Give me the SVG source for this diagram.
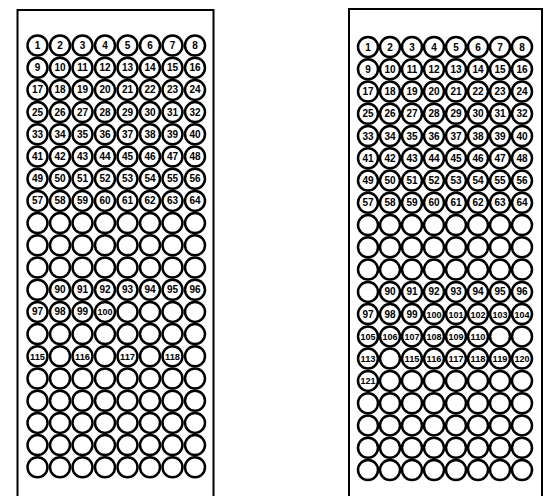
<svg xmlns="http://www.w3.org/2000/svg" width="550" height="496" viewBox="0 0 550 496">
<style>
.panel{fill:#fff;stroke:#000;stroke-width:2}
circle{fill:#fff;stroke:#000;stroke-width:2.5}
text{font-family:"Liberation Sans",Arial,sans-serif;font-weight:bold;font-size:10px;fill:#000;text-anchor:middle;dominant-baseline:central}
text.s{font-size:9.5px}
</style>
<rect width="550" height="496" fill="#fff"/>
<g id="left-panel">
<rect class="panel" x="17.5" y="10" width="196" height="500"/>
<g id="L-row1" transform="translate(0,45.5)">
<g id="L1-1" transform="translate(37.5,0)"><circle r="10"/><text>1</text></g>
<g id="L1-2" transform="translate(60,0)"><circle r="10"/><text>2</text></g>
<g id="L1-3" transform="translate(82.5,0)"><circle r="10"/><text>3</text></g>
<g id="L1-4" transform="translate(105,0)"><circle r="10"/><text>4</text></g>
<g id="L1-5" transform="translate(127.5,0)"><circle r="10"/><text>5</text></g>
<g id="L1-6" transform="translate(150,0)"><circle r="10"/><text>6</text></g>
<g id="L1-7" transform="translate(172.5,0)"><circle r="10"/><text>7</text></g>
<g id="L1-8" transform="translate(195,0)"><circle r="10"/><text>8</text></g>
</g>
<g id="L-row2" transform="translate(0,67.7)">
<g id="L2-1" transform="translate(37.5,0)"><circle r="10"/><text>9</text></g>
<g id="L2-2" transform="translate(60,0)"><circle r="10"/><text>10</text></g>
<g id="L2-3" transform="translate(82.5,0)"><circle r="10"/><text>11</text></g>
<g id="L2-4" transform="translate(105,0)"><circle r="10"/><text>12</text></g>
<g id="L2-5" transform="translate(127.5,0)"><circle r="10"/><text>13</text></g>
<g id="L2-6" transform="translate(150,0)"><circle r="10"/><text>14</text></g>
<g id="L2-7" transform="translate(172.5,0)"><circle r="10"/><text>15</text></g>
<g id="L2-8" transform="translate(195,0)"><circle r="10"/><text>16</text></g>
</g>
<g id="L-row3" transform="translate(0,89.9)">
<g id="L3-1" transform="translate(37.5,0)"><circle r="10"/><text>17</text></g>
<g id="L3-2" transform="translate(60,0)"><circle r="10"/><text>18</text></g>
<g id="L3-3" transform="translate(82.5,0)"><circle r="10"/><text>19</text></g>
<g id="L3-4" transform="translate(105,0)"><circle r="10"/><text>20</text></g>
<g id="L3-5" transform="translate(127.5,0)"><circle r="10"/><text>21</text></g>
<g id="L3-6" transform="translate(150,0)"><circle r="10"/><text>22</text></g>
<g id="L3-7" transform="translate(172.5,0)"><circle r="10"/><text>23</text></g>
<g id="L3-8" transform="translate(195,0)"><circle r="10"/><text>24</text></g>
</g>
<g id="L-row4" transform="translate(0,112.1)">
<g id="L4-1" transform="translate(37.5,0)"><circle r="10"/><text>25</text></g>
<g id="L4-2" transform="translate(60,0)"><circle r="10"/><text>26</text></g>
<g id="L4-3" transform="translate(82.5,0)"><circle r="10"/><text>27</text></g>
<g id="L4-4" transform="translate(105,0)"><circle r="10"/><text>28</text></g>
<g id="L4-5" transform="translate(127.5,0)"><circle r="10"/><text>29</text></g>
<g id="L4-6" transform="translate(150,0)"><circle r="10"/><text>30</text></g>
<g id="L4-7" transform="translate(172.5,0)"><circle r="10"/><text>31</text></g>
<g id="L4-8" transform="translate(195,0)"><circle r="10"/><text>32</text></g>
</g>
<g id="L-row5" transform="translate(0,134.3)">
<g id="L5-1" transform="translate(37.5,0)"><circle r="10"/><text>33</text></g>
<g id="L5-2" transform="translate(60,0)"><circle r="10"/><text>34</text></g>
<g id="L5-3" transform="translate(82.5,0)"><circle r="10"/><text>35</text></g>
<g id="L5-4" transform="translate(105,0)"><circle r="10"/><text>36</text></g>
<g id="L5-5" transform="translate(127.5,0)"><circle r="10"/><text>37</text></g>
<g id="L5-6" transform="translate(150,0)"><circle r="10"/><text>38</text></g>
<g id="L5-7" transform="translate(172.5,0)"><circle r="10"/><text>39</text></g>
<g id="L5-8" transform="translate(195,0)"><circle r="10"/><text>40</text></g>
</g>
<g id="L-row6" transform="translate(0,156.5)">
<g id="L6-1" transform="translate(37.5,0)"><circle r="10"/><text>41</text></g>
<g id="L6-2" transform="translate(60,0)"><circle r="10"/><text>42</text></g>
<g id="L6-3" transform="translate(82.5,0)"><circle r="10"/><text>43</text></g>
<g id="L6-4" transform="translate(105,0)"><circle r="10"/><text>44</text></g>
<g id="L6-5" transform="translate(127.5,0)"><circle r="10"/><text>45</text></g>
<g id="L6-6" transform="translate(150,0)"><circle r="10"/><text>46</text></g>
<g id="L6-7" transform="translate(172.5,0)"><circle r="10"/><text>47</text></g>
<g id="L6-8" transform="translate(195,0)"><circle r="10"/><text>48</text></g>
</g>
<g id="L-row7" transform="translate(0,178.7)">
<g id="L7-1" transform="translate(37.5,0)"><circle r="10"/><text>49</text></g>
<g id="L7-2" transform="translate(60,0)"><circle r="10"/><text>50</text></g>
<g id="L7-3" transform="translate(82.5,0)"><circle r="10"/><text>51</text></g>
<g id="L7-4" transform="translate(105,0)"><circle r="10"/><text>52</text></g>
<g id="L7-5" transform="translate(127.5,0)"><circle r="10"/><text>53</text></g>
<g id="L7-6" transform="translate(150,0)"><circle r="10"/><text>54</text></g>
<g id="L7-7" transform="translate(172.5,0)"><circle r="10"/><text>55</text></g>
<g id="L7-8" transform="translate(195,0)"><circle r="10"/><text>56</text></g>
</g>
<g id="L-row8" transform="translate(0,200.9)">
<g id="L8-1" transform="translate(37.5,0)"><circle r="10"/><text>57</text></g>
<g id="L8-2" transform="translate(60,0)"><circle r="10"/><text>58</text></g>
<g id="L8-3" transform="translate(82.5,0)"><circle r="10"/><text>59</text></g>
<g id="L8-4" transform="translate(105,0)"><circle r="10"/><text>60</text></g>
<g id="L8-5" transform="translate(127.5,0)"><circle r="10"/><text>61</text></g>
<g id="L8-6" transform="translate(150,0)"><circle r="10"/><text>62</text></g>
<g id="L8-7" transform="translate(172.5,0)"><circle r="10"/><text>63</text></g>
<g id="L8-8" transform="translate(195,0)"><circle r="10"/><text>64</text></g>
</g>
<g id="L-row9" transform="translate(0,223.1)">
<g id="L9-1" transform="translate(37.5,0)"><circle r="10"/></g>
<g id="L9-2" transform="translate(60,0)"><circle r="10"/></g>
<g id="L9-3" transform="translate(82.5,0)"><circle r="10"/></g>
<g id="L9-4" transform="translate(105,0)"><circle r="10"/></g>
<g id="L9-5" transform="translate(127.5,0)"><circle r="10"/></g>
<g id="L9-6" transform="translate(150,0)"><circle r="10"/></g>
<g id="L9-7" transform="translate(172.5,0)"><circle r="10"/></g>
<g id="L9-8" transform="translate(195,0)"><circle r="10"/></g>
</g>
<g id="L-row10" transform="translate(0,245.3)">
<g id="L10-1" transform="translate(37.5,0)"><circle r="10"/></g>
<g id="L10-2" transform="translate(60,0)"><circle r="10"/></g>
<g id="L10-3" transform="translate(82.5,0)"><circle r="10"/></g>
<g id="L10-4" transform="translate(105,0)"><circle r="10"/></g>
<g id="L10-5" transform="translate(127.5,0)"><circle r="10"/></g>
<g id="L10-6" transform="translate(150,0)"><circle r="10"/></g>
<g id="L10-7" transform="translate(172.5,0)"><circle r="10"/></g>
<g id="L10-8" transform="translate(195,0)"><circle r="10"/></g>
</g>
<g id="L-row11" transform="translate(0,267.5)">
<g id="L11-1" transform="translate(37.5,0)"><circle r="10"/></g>
<g id="L11-2" transform="translate(60,0)"><circle r="10"/></g>
<g id="L11-3" transform="translate(82.5,0)"><circle r="10"/></g>
<g id="L11-4" transform="translate(105,0)"><circle r="10"/></g>
<g id="L11-5" transform="translate(127.5,0)"><circle r="10"/></g>
<g id="L11-6" transform="translate(150,0)"><circle r="10"/></g>
<g id="L11-7" transform="translate(172.5,0)"><circle r="10"/></g>
<g id="L11-8" transform="translate(195,0)"><circle r="10"/></g>
</g>
<g id="L-row12" transform="translate(0,289.7)">
<g id="L12-1" transform="translate(37.5,0)"><circle r="10"/></g>
<g id="L12-2" transform="translate(60,0)"><circle r="10"/><text>90</text></g>
<g id="L12-3" transform="translate(82.5,0)"><circle r="10"/><text>91</text></g>
<g id="L12-4" transform="translate(105,0)"><circle r="10"/><text>92</text></g>
<g id="L12-5" transform="translate(127.5,0)"><circle r="10"/><text>93</text></g>
<g id="L12-6" transform="translate(150,0)"><circle r="10"/><text>94</text></g>
<g id="L12-7" transform="translate(172.5,0)"><circle r="10"/><text>95</text></g>
<g id="L12-8" transform="translate(195,0)"><circle r="10"/><text>96</text></g>
</g>
<g id="L-row13" transform="translate(0,311.9)">
<g id="L13-1" transform="translate(37.5,0)"><circle r="10"/><text>97</text></g>
<g id="L13-2" transform="translate(60,0)"><circle r="10"/><text>98</text></g>
<g id="L13-3" transform="translate(82.5,0)"><circle r="10"/><text>99</text></g>
<g id="L13-4" transform="translate(105,0)"><circle r="10"/><text class="s" textLength="15" lengthAdjust="spacingAndGlyphs">100</text></g>
<g id="L13-5" transform="translate(127.5,0)"><circle r="10"/></g>
<g id="L13-6" transform="translate(150,0)"><circle r="10"/></g>
<g id="L13-7" transform="translate(172.5,0)"><circle r="10"/></g>
<g id="L13-8" transform="translate(195,0)"><circle r="10"/></g>
</g>
<g id="L-row14" transform="translate(0,334.1)">
<g id="L14-1" transform="translate(37.5,0)"><circle r="10"/></g>
<g id="L14-2" transform="translate(60,0)"><circle r="10"/></g>
<g id="L14-3" transform="translate(82.5,0)"><circle r="10"/></g>
<g id="L14-4" transform="translate(105,0)"><circle r="10"/></g>
<g id="L14-5" transform="translate(127.5,0)"><circle r="10"/></g>
<g id="L14-6" transform="translate(150,0)"><circle r="10"/></g>
<g id="L14-7" transform="translate(172.5,0)"><circle r="10"/></g>
<g id="L14-8" transform="translate(195,0)"><circle r="10"/></g>
</g>
<g id="L-row15" transform="translate(0,356.3)">
<g id="L15-1" transform="translate(37.5,0)"><circle r="10"/><text class="s" textLength="15" lengthAdjust="spacingAndGlyphs">115</text></g>
<g id="L15-2" transform="translate(60,0)"><circle r="10"/></g>
<g id="L15-3" transform="translate(82.5,0)"><circle r="10"/><text class="s" textLength="15" lengthAdjust="spacingAndGlyphs">116</text></g>
<g id="L15-4" transform="translate(105,0)"><circle r="10"/></g>
<g id="L15-5" transform="translate(127.5,0)"><circle r="10"/><text class="s" textLength="15" lengthAdjust="spacingAndGlyphs">117</text></g>
<g id="L15-6" transform="translate(150,0)"><circle r="10"/></g>
<g id="L15-7" transform="translate(172.5,0)"><circle r="10"/><text class="s" textLength="15" lengthAdjust="spacingAndGlyphs">118</text></g>
<g id="L15-8" transform="translate(195,0)"><circle r="10"/></g>
</g>
<g id="L-row16" transform="translate(0,378.5)">
<g id="L16-1" transform="translate(37.5,0)"><circle r="10"/></g>
<g id="L16-2" transform="translate(60,0)"><circle r="10"/></g>
<g id="L16-3" transform="translate(82.5,0)"><circle r="10"/></g>
<g id="L16-4" transform="translate(105,0)"><circle r="10"/></g>
<g id="L16-5" transform="translate(127.5,0)"><circle r="10"/></g>
<g id="L16-6" transform="translate(150,0)"><circle r="10"/></g>
<g id="L16-7" transform="translate(172.5,0)"><circle r="10"/></g>
<g id="L16-8" transform="translate(195,0)"><circle r="10"/></g>
</g>
<g id="L-row17" transform="translate(0,400.7)">
<g id="L17-1" transform="translate(37.5,0)"><circle r="10"/></g>
<g id="L17-2" transform="translate(60,0)"><circle r="10"/></g>
<g id="L17-3" transform="translate(82.5,0)"><circle r="10"/></g>
<g id="L17-4" transform="translate(105,0)"><circle r="10"/></g>
<g id="L17-5" transform="translate(127.5,0)"><circle r="10"/></g>
<g id="L17-6" transform="translate(150,0)"><circle r="10"/></g>
<g id="L17-7" transform="translate(172.5,0)"><circle r="10"/></g>
<g id="L17-8" transform="translate(195,0)"><circle r="10"/></g>
</g>
<g id="L-row18" transform="translate(0,422.9)">
<g id="L18-1" transform="translate(37.5,0)"><circle r="10"/></g>
<g id="L18-2" transform="translate(60,0)"><circle r="10"/></g>
<g id="L18-3" transform="translate(82.5,0)"><circle r="10"/></g>
<g id="L18-4" transform="translate(105,0)"><circle r="10"/></g>
<g id="L18-5" transform="translate(127.5,0)"><circle r="10"/></g>
<g id="L18-6" transform="translate(150,0)"><circle r="10"/></g>
<g id="L18-7" transform="translate(172.5,0)"><circle r="10"/></g>
<g id="L18-8" transform="translate(195,0)"><circle r="10"/></g>
</g>
<g id="L-row19" transform="translate(0,445.1)">
<g id="L19-1" transform="translate(37.5,0)"><circle r="10"/></g>
<g id="L19-2" transform="translate(60,0)"><circle r="10"/></g>
<g id="L19-3" transform="translate(82.5,0)"><circle r="10"/></g>
<g id="L19-4" transform="translate(105,0)"><circle r="10"/></g>
<g id="L19-5" transform="translate(127.5,0)"><circle r="10"/></g>
<g id="L19-6" transform="translate(150,0)"><circle r="10"/></g>
<g id="L19-7" transform="translate(172.5,0)"><circle r="10"/></g>
<g id="L19-8" transform="translate(195,0)"><circle r="10"/></g>
</g>
<g id="L-row20" transform="translate(0,467.3)">
<g id="L20-1" transform="translate(37.5,0)"><circle r="10"/></g>
<g id="L20-2" transform="translate(60,0)"><circle r="10"/></g>
<g id="L20-3" transform="translate(82.5,0)"><circle r="10"/></g>
<g id="L20-4" transform="translate(105,0)"><circle r="10"/></g>
<g id="L20-5" transform="translate(127.5,0)"><circle r="10"/></g>
<g id="L20-6" transform="translate(150,0)"><circle r="10"/></g>
<g id="L20-7" transform="translate(172.5,0)"><circle r="10"/></g>
<g id="L20-8" transform="translate(195,0)"><circle r="10"/></g>
</g>
</g>
<g id="right-panel">
<rect class="panel" x="349" y="9" width="193" height="500"/>
<g id="R-row1" transform="translate(0,47)">
<g id="R1-1" transform="translate(368,0)"><circle r="10"/><text>1</text></g>
<g id="R1-2" transform="translate(390,0)"><circle r="10"/><text>2</text></g>
<g id="R1-3" transform="translate(412,0)"><circle r="10"/><text>3</text></g>
<g id="R1-4" transform="translate(434,0)"><circle r="10"/><text>4</text></g>
<g id="R1-5" transform="translate(456,0)"><circle r="10"/><text>5</text></g>
<g id="R1-6" transform="translate(478,0)"><circle r="10"/><text>6</text></g>
<g id="R1-7" transform="translate(500,0)"><circle r="10"/><text>7</text></g>
<g id="R1-8" transform="translate(522,0)"><circle r="10"/><text>8</text></g>
</g>
<g id="R-row2" transform="translate(0,69.3)">
<g id="R2-1" transform="translate(368,0)"><circle r="10"/><text>9</text></g>
<g id="R2-2" transform="translate(390,0)"><circle r="10"/><text>10</text></g>
<g id="R2-3" transform="translate(412,0)"><circle r="10"/><text>11</text></g>
<g id="R2-4" transform="translate(434,0)"><circle r="10"/><text>12</text></g>
<g id="R2-5" transform="translate(456,0)"><circle r="10"/><text>13</text></g>
<g id="R2-6" transform="translate(478,0)"><circle r="10"/><text>14</text></g>
<g id="R2-7" transform="translate(500,0)"><circle r="10"/><text>15</text></g>
<g id="R2-8" transform="translate(522,0)"><circle r="10"/><text>16</text></g>
</g>
<g id="R-row3" transform="translate(0,91.5)">
<g id="R3-1" transform="translate(368,0)"><circle r="10"/><text>17</text></g>
<g id="R3-2" transform="translate(390,0)"><circle r="10"/><text>18</text></g>
<g id="R3-3" transform="translate(412,0)"><circle r="10"/><text>19</text></g>
<g id="R3-4" transform="translate(434,0)"><circle r="10"/><text>20</text></g>
<g id="R3-5" transform="translate(456,0)"><circle r="10"/><text>21</text></g>
<g id="R3-6" transform="translate(478,0)"><circle r="10"/><text>22</text></g>
<g id="R3-7" transform="translate(500,0)"><circle r="10"/><text>23</text></g>
<g id="R3-8" transform="translate(522,0)"><circle r="10"/><text>24</text></g>
</g>
<g id="R-row4" transform="translate(0,113.8)">
<g id="R4-1" transform="translate(368,0)"><circle r="10"/><text>25</text></g>
<g id="R4-2" transform="translate(390,0)"><circle r="10"/><text>26</text></g>
<g id="R4-3" transform="translate(412,0)"><circle r="10"/><text>27</text></g>
<g id="R4-4" transform="translate(434,0)"><circle r="10"/><text>28</text></g>
<g id="R4-5" transform="translate(456,0)"><circle r="10"/><text>29</text></g>
<g id="R4-6" transform="translate(478,0)"><circle r="10"/><text>30</text></g>
<g id="R4-7" transform="translate(500,0)"><circle r="10"/><text>31</text></g>
<g id="R4-8" transform="translate(522,0)"><circle r="10"/><text>32</text></g>
</g>
<g id="R-row5" transform="translate(0,136)">
<g id="R5-1" transform="translate(368,0)"><circle r="10"/><text>33</text></g>
<g id="R5-2" transform="translate(390,0)"><circle r="10"/><text>34</text></g>
<g id="R5-3" transform="translate(412,0)"><circle r="10"/><text>35</text></g>
<g id="R5-4" transform="translate(434,0)"><circle r="10"/><text>36</text></g>
<g id="R5-5" transform="translate(456,0)"><circle r="10"/><text>37</text></g>
<g id="R5-6" transform="translate(478,0)"><circle r="10"/><text>38</text></g>
<g id="R5-7" transform="translate(500,0)"><circle r="10"/><text>39</text></g>
<g id="R5-8" transform="translate(522,0)"><circle r="10"/><text>40</text></g>
</g>
<g id="R-row6" transform="translate(0,158.3)">
<g id="R6-1" transform="translate(368,0)"><circle r="10"/><text>41</text></g>
<g id="R6-2" transform="translate(390,0)"><circle r="10"/><text>42</text></g>
<g id="R6-3" transform="translate(412,0)"><circle r="10"/><text>43</text></g>
<g id="R6-4" transform="translate(434,0)"><circle r="10"/><text>44</text></g>
<g id="R6-5" transform="translate(456,0)"><circle r="10"/><text>45</text></g>
<g id="R6-6" transform="translate(478,0)"><circle r="10"/><text>46</text></g>
<g id="R6-7" transform="translate(500,0)"><circle r="10"/><text>47</text></g>
<g id="R6-8" transform="translate(522,0)"><circle r="10"/><text>48</text></g>
</g>
<g id="R-row7" transform="translate(0,180.6)">
<g id="R7-1" transform="translate(368,0)"><circle r="10"/><text>49</text></g>
<g id="R7-2" transform="translate(390,0)"><circle r="10"/><text>50</text></g>
<g id="R7-3" transform="translate(412,0)"><circle r="10"/><text>51</text></g>
<g id="R7-4" transform="translate(434,0)"><circle r="10"/><text>52</text></g>
<g id="R7-5" transform="translate(456,0)"><circle r="10"/><text>53</text></g>
<g id="R7-6" transform="translate(478,0)"><circle r="10"/><text>54</text></g>
<g id="R7-7" transform="translate(500,0)"><circle r="10"/><text>55</text></g>
<g id="R7-8" transform="translate(522,0)"><circle r="10"/><text>56</text></g>
</g>
<g id="R-row8" transform="translate(0,202.8)">
<g id="R8-1" transform="translate(368,0)"><circle r="10"/><text>57</text></g>
<g id="R8-2" transform="translate(390,0)"><circle r="10"/><text>58</text></g>
<g id="R8-3" transform="translate(412,0)"><circle r="10"/><text>59</text></g>
<g id="R8-4" transform="translate(434,0)"><circle r="10"/><text>60</text></g>
<g id="R8-5" transform="translate(456,0)"><circle r="10"/><text>61</text></g>
<g id="R8-6" transform="translate(478,0)"><circle r="10"/><text>62</text></g>
<g id="R8-7" transform="translate(500,0)"><circle r="10"/><text>63</text></g>
<g id="R8-8" transform="translate(522,0)"><circle r="10"/><text>64</text></g>
</g>
<g id="R-row9" transform="translate(0,225.1)">
<g id="R9-1" transform="translate(368,0)"><circle r="10"/></g>
<g id="R9-2" transform="translate(390,0)"><circle r="10"/></g>
<g id="R9-3" transform="translate(412,0)"><circle r="10"/></g>
<g id="R9-4" transform="translate(434,0)"><circle r="10"/></g>
<g id="R9-5" transform="translate(456,0)"><circle r="10"/></g>
<g id="R9-6" transform="translate(478,0)"><circle r="10"/></g>
<g id="R9-7" transform="translate(500,0)"><circle r="10"/></g>
<g id="R9-8" transform="translate(522,0)"><circle r="10"/></g>
</g>
<g id="R-row10" transform="translate(0,247.3)">
<g id="R10-1" transform="translate(368,0)"><circle r="10"/></g>
<g id="R10-2" transform="translate(390,0)"><circle r="10"/></g>
<g id="R10-3" transform="translate(412,0)"><circle r="10"/></g>
<g id="R10-4" transform="translate(434,0)"><circle r="10"/></g>
<g id="R10-5" transform="translate(456,0)"><circle r="10"/></g>
<g id="R10-6" transform="translate(478,0)"><circle r="10"/></g>
<g id="R10-7" transform="translate(500,0)"><circle r="10"/></g>
<g id="R10-8" transform="translate(522,0)"><circle r="10"/></g>
</g>
<g id="R-row11" transform="translate(0,269.6)">
<g id="R11-1" transform="translate(368,0)"><circle r="10"/></g>
<g id="R11-2" transform="translate(390,0)"><circle r="10"/></g>
<g id="R11-3" transform="translate(412,0)"><circle r="10"/></g>
<g id="R11-4" transform="translate(434,0)"><circle r="10"/></g>
<g id="R11-5" transform="translate(456,0)"><circle r="10"/></g>
<g id="R11-6" transform="translate(478,0)"><circle r="10"/></g>
<g id="R11-7" transform="translate(500,0)"><circle r="10"/></g>
<g id="R11-8" transform="translate(522,0)"><circle r="10"/></g>
</g>
<g id="R-row12" transform="translate(0,291.9)">
<g id="R12-1" transform="translate(368,0)"><circle r="10"/></g>
<g id="R12-2" transform="translate(390,0)"><circle r="10"/><text>90</text></g>
<g id="R12-3" transform="translate(412,0)"><circle r="10"/><text>91</text></g>
<g id="R12-4" transform="translate(434,0)"><circle r="10"/><text>92</text></g>
<g id="R12-5" transform="translate(456,0)"><circle r="10"/><text>93</text></g>
<g id="R12-6" transform="translate(478,0)"><circle r="10"/><text>94</text></g>
<g id="R12-7" transform="translate(500,0)"><circle r="10"/><text>95</text></g>
<g id="R12-8" transform="translate(522,0)"><circle r="10"/><text>96</text></g>
</g>
<g id="R-row13" transform="translate(0,314.1)">
<g id="R13-1" transform="translate(368,0)"><circle r="10"/><text>97</text></g>
<g id="R13-2" transform="translate(390,0)"><circle r="10"/><text>98</text></g>
<g id="R13-3" transform="translate(412,0)"><circle r="10"/><text>99</text></g>
<g id="R13-4" transform="translate(434,0)"><circle r="10"/><text class="s" textLength="15" lengthAdjust="spacingAndGlyphs">100</text></g>
<g id="R13-5" transform="translate(456,0)"><circle r="10"/><text class="s" textLength="15" lengthAdjust="spacingAndGlyphs">101</text></g>
<g id="R13-6" transform="translate(478,0)"><circle r="10"/><text class="s" textLength="15" lengthAdjust="spacingAndGlyphs">102</text></g>
<g id="R13-7" transform="translate(500,0)"><circle r="10"/><text class="s" textLength="15" lengthAdjust="spacingAndGlyphs">103</text></g>
<g id="R13-8" transform="translate(522,0)"><circle r="10"/><text class="s" textLength="15" lengthAdjust="spacingAndGlyphs">104</text></g>
</g>
<g id="R-row14" transform="translate(0,336.4)">
<g id="R14-1" transform="translate(368,0)"><circle r="10"/><text class="s" textLength="15" lengthAdjust="spacingAndGlyphs">105</text></g>
<g id="R14-2" transform="translate(390,0)"><circle r="10"/><text class="s" textLength="15" lengthAdjust="spacingAndGlyphs">106</text></g>
<g id="R14-3" transform="translate(412,0)"><circle r="10"/><text class="s" textLength="15" lengthAdjust="spacingAndGlyphs">107</text></g>
<g id="R14-4" transform="translate(434,0)"><circle r="10"/><text class="s" textLength="15" lengthAdjust="spacingAndGlyphs">108</text></g>
<g id="R14-5" transform="translate(456,0)"><circle r="10"/><text class="s" textLength="15" lengthAdjust="spacingAndGlyphs">109</text></g>
<g id="R14-6" transform="translate(478,0)"><circle r="10"/><text class="s" textLength="15" lengthAdjust="spacingAndGlyphs">110</text></g>
<g id="R14-7" transform="translate(500,0)"><circle r="10"/></g>
<g id="R14-8" transform="translate(522,0)"><circle r="10"/></g>
</g>
<g id="R-row15" transform="translate(0,358.6)">
<g id="R15-1" transform="translate(368,0)"><circle r="10"/><text class="s" textLength="15" lengthAdjust="spacingAndGlyphs">113</text></g>
<g id="R15-2" transform="translate(390,0)"><circle r="10"/></g>
<g id="R15-3" transform="translate(412,0)"><circle r="10"/><text class="s" textLength="15" lengthAdjust="spacingAndGlyphs">115</text></g>
<g id="R15-4" transform="translate(434,0)"><circle r="10"/><text class="s" textLength="15" lengthAdjust="spacingAndGlyphs">116</text></g>
<g id="R15-5" transform="translate(456,0)"><circle r="10"/><text class="s" textLength="15" lengthAdjust="spacingAndGlyphs">117</text></g>
<g id="R15-6" transform="translate(478,0)"><circle r="10"/><text class="s" textLength="15" lengthAdjust="spacingAndGlyphs">118</text></g>
<g id="R15-7" transform="translate(500,0)"><circle r="10"/><text class="s" textLength="15" lengthAdjust="spacingAndGlyphs">119</text></g>
<g id="R15-8" transform="translate(522,0)"><circle r="10"/><text class="s" textLength="15" lengthAdjust="spacingAndGlyphs">120</text></g>
</g>
<g id="R-row16" transform="translate(0,380.9)">
<g id="R16-1" transform="translate(368,0)"><circle r="10"/><text class="s" textLength="15" lengthAdjust="spacingAndGlyphs">121</text></g>
<g id="R16-2" transform="translate(390,0)"><circle r="10"/></g>
<g id="R16-3" transform="translate(412,0)"><circle r="10"/></g>
<g id="R16-4" transform="translate(434,0)"><circle r="10"/></g>
<g id="R16-5" transform="translate(456,0)"><circle r="10"/></g>
<g id="R16-6" transform="translate(478,0)"><circle r="10"/></g>
<g id="R16-7" transform="translate(500,0)"><circle r="10"/></g>
<g id="R16-8" transform="translate(522,0)"><circle r="10"/></g>
</g>
<g id="R-row17" transform="translate(0,403.2)">
<g id="R17-1" transform="translate(368,0)"><circle r="10"/></g>
<g id="R17-2" transform="translate(390,0)"><circle r="10"/></g>
<g id="R17-3" transform="translate(412,0)"><circle r="10"/></g>
<g id="R17-4" transform="translate(434,0)"><circle r="10"/></g>
<g id="R17-5" transform="translate(456,0)"><circle r="10"/></g>
<g id="R17-6" transform="translate(478,0)"><circle r="10"/></g>
<g id="R17-7" transform="translate(500,0)"><circle r="10"/></g>
<g id="R17-8" transform="translate(522,0)"><circle r="10"/></g>
</g>
<g id="R-row18" transform="translate(0,425.4)">
<g id="R18-1" transform="translate(368,0)"><circle r="10"/></g>
<g id="R18-2" transform="translate(390,0)"><circle r="10"/></g>
<g id="R18-3" transform="translate(412,0)"><circle r="10"/></g>
<g id="R18-4" transform="translate(434,0)"><circle r="10"/></g>
<g id="R18-5" transform="translate(456,0)"><circle r="10"/></g>
<g id="R18-6" transform="translate(478,0)"><circle r="10"/></g>
<g id="R18-7" transform="translate(500,0)"><circle r="10"/></g>
<g id="R18-8" transform="translate(522,0)"><circle r="10"/></g>
</g>
<g id="R-row19" transform="translate(0,447.7)">
<g id="R19-1" transform="translate(368,0)"><circle r="10"/></g>
<g id="R19-2" transform="translate(390,0)"><circle r="10"/></g>
<g id="R19-3" transform="translate(412,0)"><circle r="10"/></g>
<g id="R19-4" transform="translate(434,0)"><circle r="10"/></g>
<g id="R19-5" transform="translate(456,0)"><circle r="10"/></g>
<g id="R19-6" transform="translate(478,0)"><circle r="10"/></g>
<g id="R19-7" transform="translate(500,0)"><circle r="10"/></g>
<g id="R19-8" transform="translate(522,0)"><circle r="10"/></g>
</g>
<g id="R-row20" transform="translate(0,470)">
<g id="R20-1" transform="translate(368,0)"><circle r="10"/></g>
<g id="R20-2" transform="translate(390,0)"><circle r="10"/></g>
<g id="R20-3" transform="translate(412,0)"><circle r="10"/></g>
<g id="R20-4" transform="translate(434,0)"><circle r="10"/></g>
<g id="R20-5" transform="translate(456,0)"><circle r="10"/></g>
<g id="R20-6" transform="translate(478,0)"><circle r="10"/></g>
<g id="R20-7" transform="translate(500,0)"><circle r="10"/></g>
<g id="R20-8" transform="translate(522,0)"><circle r="10"/></g>
</g>
</g>
</svg>
